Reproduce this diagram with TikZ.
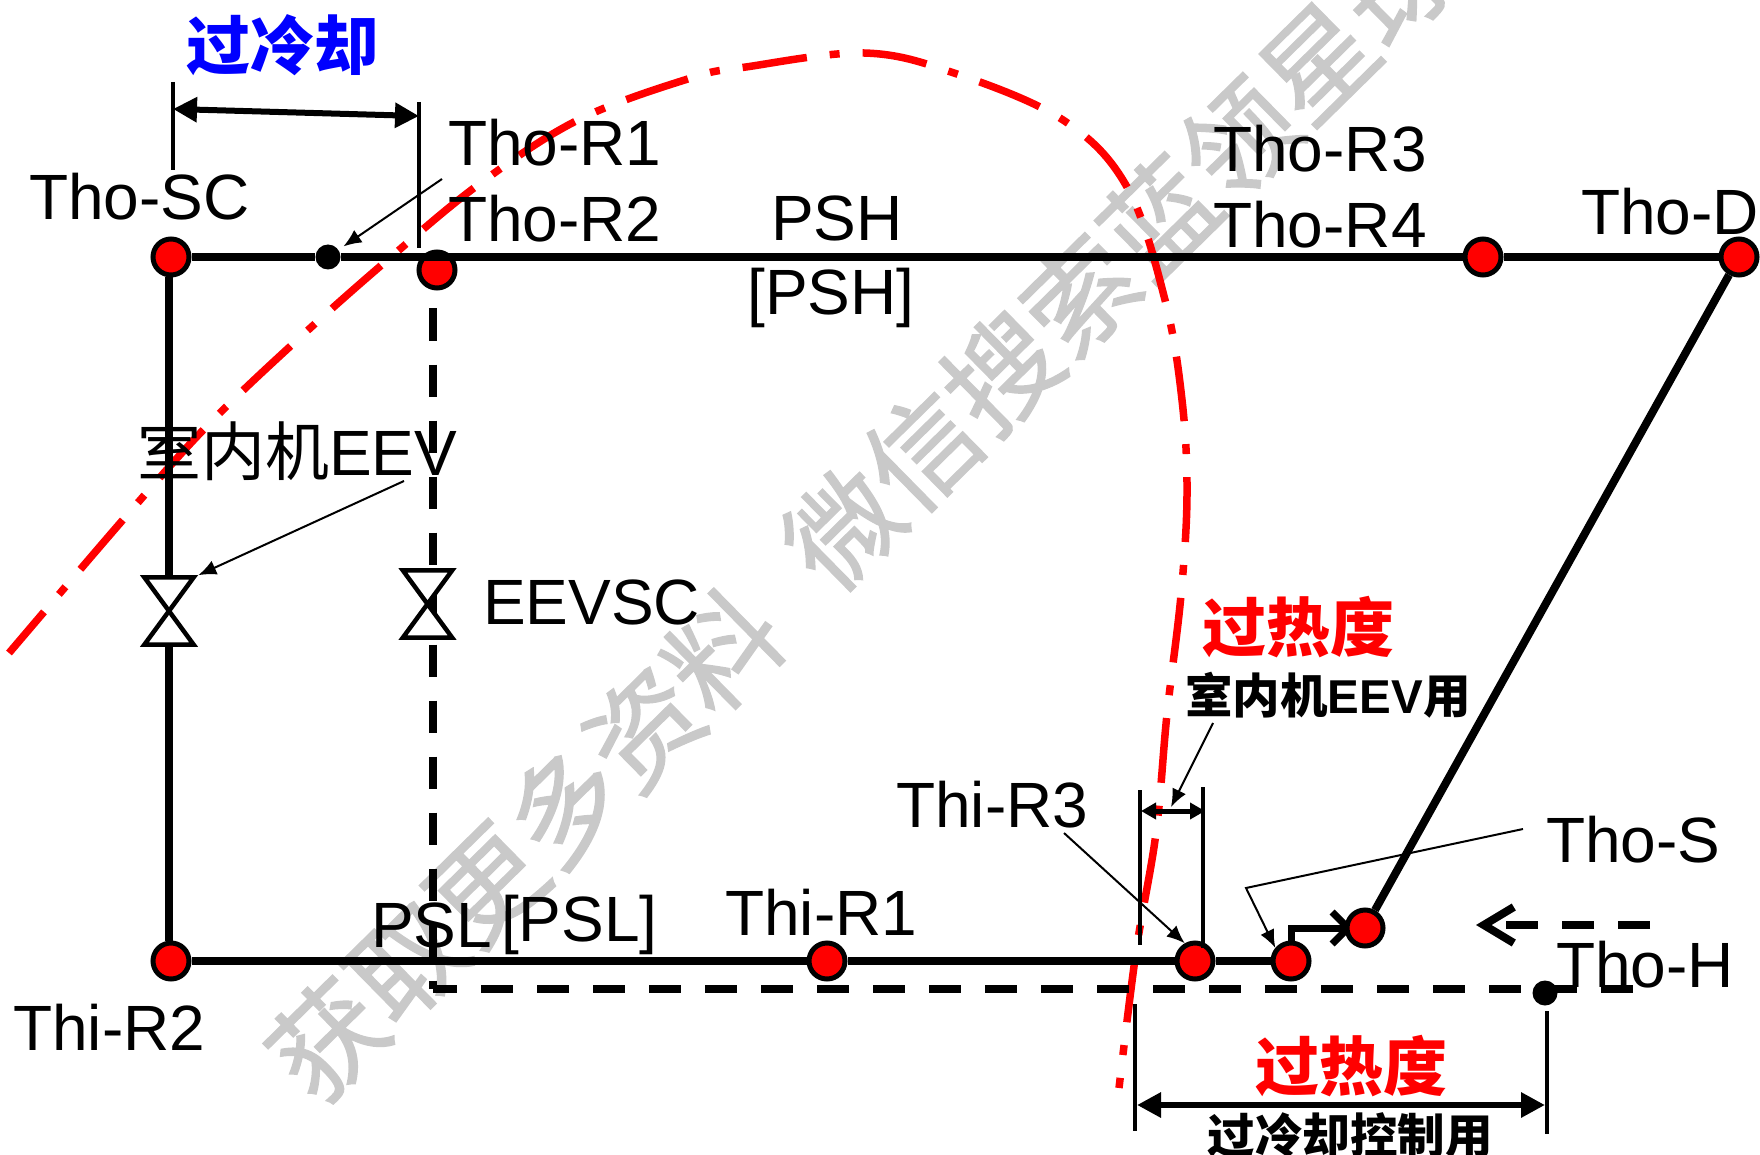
\documentclass[tikz,border=0pt]{standalone}
\usepackage{fontspec}
\setmainfont{Liberation Sans}
\newfontfamily\cjkfont{Noto Sans CJK SC}
\newfontfamily\markfont[FakeBold=1.2]{Noto Sans CJK SC}
\usepackage{xcolor}
\usetikzlibrary{arrows.meta}
\definecolor{fred}{HTML}{FF0000}
\definecolor{fblue}{HTML}{0000FF}
\definecolor{fmark}{HTML}{C9C9C9}
\tikzset{
  pipe/.style     = {line width=8pt},
  pipedash/.style = {line width=8pt, dash pattern=on 32pt off 24pt},
  sensor/.style   = {draw, fill=fred, circle, line width=5pt, inner sep=0pt, minimum size=36pt},
  tap/.style      = {fill, circle, inner sep=0pt, minimum size=25pt},
  valve/.style    = {inner sep=0pt, minimum width=49pt, minimum height=67pt},
  valveline/.style= {draw, fill=white, line width=4.5pt, line join=miter},
  leader/.style   = {line width=2pt, -{Latex[length=18pt,width=15pt]}},
  extline/.style  = {line width=3.5pt},
  span/.style     = {line width=6pt, {Triangle[length=24pt,width=24pt]}-{Triangle[length=24pt,width=24pt]}},
  tag/.style      = {anchor=base west, inner sep=0pt, font=\fontsize{64}{70}\selectfont},
  title/.style    = {inner sep=0pt, font=\fontsize{64}{70}\selectfont\cjkfont\bfseries},
  note/.style     = {inner sep=0pt, font=\fontsize{47.5}{52}\selectfont\cjkfont\bfseries},
  wmark/.style    = {rotate=44.5, fmark, font=\fontsize{111}{116}\selectfont\markfont},
}
\newcommand{\cn}[1]{{\cjkfont #1}}

\begin{document}
\begin{tikzpicture}[x=1pt, y=-1pt]
\useasboundingbox (0,0) rectangle (1760,1155);
\clip (0,0) rectangle (1760,1155);
% ---- watermark ----
\node[wmark] (markA) at (525,845) {获取更多资料};
\node[wmark] (markB) at (1120,256) {微信搜索蓝领星球};
% ---- saturation curve ----
\draw[fred, line width=7.5pt, dash pattern=on 65pt off 23pt on 10pt off 23pt, dash phase=11pt]
  plot[smooth, tension=0.6] coordinates {(9,653) (128,514) (208,425) (295,342) (384,263) (478,185)
    (578,120) (691,78) (746,67) (864,53) (954,73) (1063,120) (1127,187) (1165,300) (1182,400)
    (1187,494) (1181,595) (1167,714) (1156,833) (1136,952) (1119,1088)};
% ---- measuring points ----
\node[sensor] (thoSC) at (171,257) {};
\node[tap]    (thoRa) at (328,257) {};
\node[sensor] (thoRb) at (437,270) {};
\node[sensor] (thoRc) at (1483,257) {};
\node[sensor] (thoD)  at (1739,257) {};
\node[sensor] (thiRb) at (171,961) {};
\node[sensor] (thiRa) at (827,961) {};
\node[sensor] (thiRc) at (1195,961) {};
\node[sensor] (thoSa) at (1291,961) {};
\node[tap]    (thoH)  at (1545,993) {};
\node[valve]  (eevL)  at (169,611) {};
\node[valve]  (eevR)  at (427.5,604) {};
\coordinate (corner) at (433,989);
\coordinate (dashEnd) at (1635,989);
\coordinate (sucTip) at (1353,928);
% ---- refrigerant lines ----
\draw[line width=7pt, -{Straight Barb[length=16pt,width=32pt]}] (thoSa.north) |- (sucTip);
\node[sensor] (thoSb) at (1365,928) {};
\draw[pipe] (thoSC) -- (thoRa);
\draw[pipe] (thoRa) -- (thoRc);
\draw[pipe] (thoRc) -- (thoD);
\draw[pipe] (thoD) -- (thoSb);
\draw[pipe] (eevL.north |- thoSC.south) -- (eevL.north);
\draw[pipe] (eevL.south) -- (eevL.south |- thiRb.north);
\draw[pipe] (thiRb) -- (thiRa);
\draw[pipe] (thiRa) -- (thiRc);
\draw[pipe] (thiRc) -- (thoSa);
\draw[pipedash, dash phase=38pt] (corner |- thoRb.south) -- (corner);
\draw[pipedash, dash phase=8pt] (corner) -- (dashEnd);
\coordinate (flowA) at (1650,925);
\coordinate (flowB) at (1476,925);
\draw[pipedash, -{Straight Barb[length=30pt,width=36pt]}] (flowA) -- (flowB);
\foreach \v in {eevL,eevR}{
  \path[valveline] (\v.north west) -- (\v.north east) -- (\v.south west) -- (\v.south east) -- cycle;}
% ---- dimension lines ----
\coordinate (scLa) at (173,82);   \coordinate (scLb) at (173,170);
\coordinate (scRa) at (419,102);  \coordinate (scRb) at (419,248);
\coordinate (scAa) at (173,109);  \coordinate (scAb) at (419,116);
\draw[extline] (scLa) -- (scLb);
\draw[extline] (scRa) -- (scRb);
\draw[span] (scAa) -- (scAb);
\coordinate (shLa) at (1140,790); \coordinate (shLb) at (1140,945);
\coordinate (shRa) at (1203,787); \coordinate (shRb) at (1203,948);
\coordinate (shAa) at (1141,811); \coordinate (shAb) at (1205,811);
\draw[extline] (shLa) -- (shLb);
\draw[extline] (shRa) -- (shRb);
\draw[line width=5pt, {Triangle[length=15pt,width=16pt]}-{Triangle[length=15pt,width=16pt]}] (shAa) -- (shAb);
\coordinate (hoLa) at (1135,1004); \coordinate (hoLb) at (1135,1131);
\coordinate (hoRa) at (1547,1011); \coordinate (hoRb) at (1547,1134);
\coordinate (hoAa) at (1137,1105); \coordinate (hoAb) at (1545,1105);
\draw[extline] (hoLa) -- (hoLb);
\draw[extline] (hoRa) -- (hoRb);
\draw[span] (hoAa) -- (hoAb);
% ---- leaders ----
\coordinate (ldrA) at (442,179);
\coordinate (ldrB) at (404,481);
\coordinate (ldrC) at (1064,833);
\coordinate (ldrD) at (1523,829);
\coordinate (ldrDk) at (1246,888);
\coordinate (ldrE) at (1213,723);
\coordinate (ldrEt) at (1171,807);
\draw[leader, shorten >=6pt] (ldrA) -- (thoRa);
\draw[leader, shorten >=5pt] (ldrB) -- (eevL.north east);
\draw[leader] (ldrC) -- (thiRc.120);
\draw[leader] (ldrD) -- (ldrDk) -- (thoSa.140);
\draw[leader] (ldrE) -- (ldrEt);
% ---- labels ----
\node[title, fblue] (lbSC) at (282,45) {过冷却};
\node[tag] (lbThoSC) at (29,220) {Tho-SC};
\node[tag] (lbThoRa) at (448,166) {Tho-R1};
\node[tag] (lbThoRb) at (448,242) {Tho-R2};
\node[tag] (lbPSH)   at (771,241) {PSH};
\node[tag] (lbPSHb)  at (747,315) {[PSH]};
\node[tag] (lbThoRc) at (1213,172) {Tho-R3};
\node[tag] (lbThoRd) at (1213,248) {Tho-R4};
\node[tag] (lbThoD)  at (1581,235) {Tho-D};
\node[tag] (lbEEV)   at (137,475) {\cn{室内机}EEV};
\node[tag] (lbEEVSC) at (483,624) {EEVSC};
\node[tag] (lbPSL)   at (371,947) {PSL};
\node[tag] (lbPSLb)  at (501,941) {[PSL]};
\node[tag] (lbThiRa) at (725,935) {Thi-R1};
\node[tag] (lbThiRb) at (13,1050) {Thi-R2};
\node[tag] (lbThiRc) at (896,827) {Thi-R3};
\node[tag] (lbThoS)  at (1546,862) {Tho-S};
\node[tag] (lbThoH)  at (1556,987) {Tho-H};
\node[title, fred] (lbSHa) at (1298,627) {过热度};
\node[note] (lbSHan) at (1328,695) {室内机{\rmfamily\bfseries EEV}用};
\node[title, fred] (lbSHb) at (1351,1066) {过热度};
\node[note] (lbSHbn) at (1350,1135) {过冷却控制用};
\end{tikzpicture}
\end{document}
